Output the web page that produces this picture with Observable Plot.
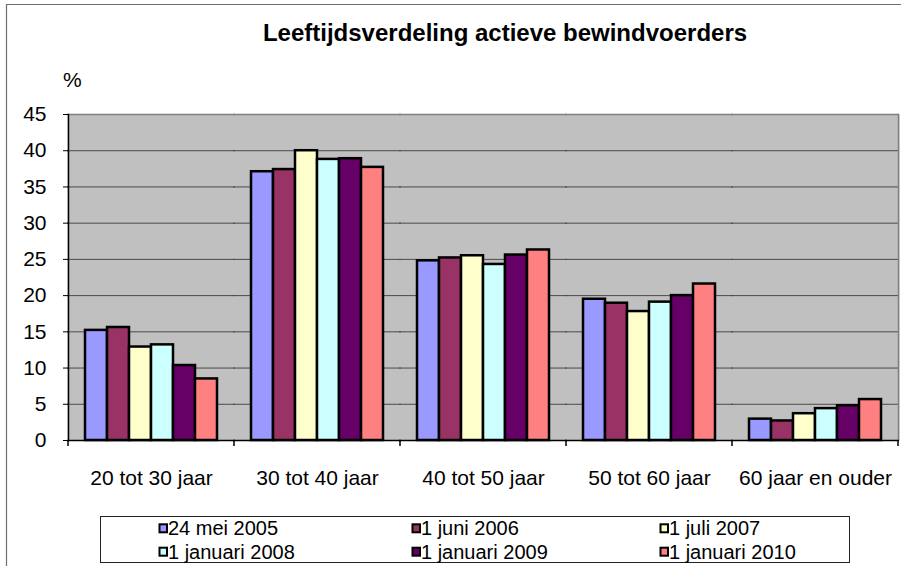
<!DOCTYPE html>
<html>
<head>
<meta charset="utf-8">
<script src="https://cdn.jsdelivr.net/npm/d3@7"></script>
<script src="https://cdn.jsdelivr.net/npm/@observablehq/plot@0.6"></script>
<style>
  html, body { margin: 0; padding: 0; background: #fff; }
  #chart { position: relative; width: 901px; height: 566px; overflow: hidden; }
</style>
</head>
<body>
<div id="chart"></div>
<script>
const titleText = "Leeftijdsverdeling actieve bewindvoerders";
const unitLabel = "%";
const categories = ["20 tot 30 jaar", "30 tot 40 jaar", "40 tot 50 jaar", "50 tot 60 jaar", "60 jaar en ouder"];
const seriesNames = ["24 mei 2005", "1 juni 2006", "1 juli 2007", "1 januari 2008", "1 januari 2009", "1 januari 2010"];
const v2005 = [15.2, 37.1, 24.8, 19.5, 2.95];
const v2006 = [15.6, 37.4, 25.2, 18.95, 2.7];
const v2007 = [12.9, 40.0, 25.5, 17.8, 3.7];
const v2008 = [13.2, 38.8, 24.3, 19.1, 4.4];
const v2009 = [10.35, 38.9, 25.6, 20.0, 4.8];
const v2010 = [8.5, 37.7, 26.3, 21.6, 5.65];
const seriesColors = ["#9999FF", "#993366", "#FFFFCC", "#CCFFFF", "#660066", "#FF8080"];
const yTicks = [0, 5, 10, 15, 20, 25, 30, 35, 40, 45];

const seriesValues = [v2005, v2006, v2007, v2008, v2009, v2010];
const data = [];
seriesValues.forEach((vals, i) => vals.forEach((v, j) => data.push({cat: categories[j], series: seriesNames[i], value: v})));

const chart = Plot.plot({
  width: 901,
  height: 566,
  marginTop: 114,
  marginLeft: 68,
  marginRight: 3,
  marginBottom: 126,
  style: {fontFamily: "'Liberation Sans', Arial, sans-serif", fontSize: "21px", color: "black", background: "transparent", overflow: "visible"},
  fx: {domain: categories, paddingInner: 0, paddingOuter: 0, label: null},
  x: {domain: seriesNames, paddingInner: 0, paddingOuter: 0.745, axis: null},
  y: {domain: [0, 45], label: null},
  color: {domain: seriesNames, range: seriesColors},
  marks: [
    Plot.frame({fill: "#c0c0c0", stroke: "none", insetLeft: -1, insetRight: -1}),
    Plot.gridY(yTicks.filter(t => t > 0 && t < 45), {stroke: "#4a4a4a", strokeOpacity: 1, insetLeft: -1, insetRight: -1}),
    Plot.ruleY([45], {stroke: "#808080", strokeWidth: 1.5, insetLeft: -1, insetRight: -1}),
    Plot.frame({anchor: "right", facetAnchor: "right", stroke: "#808080", strokeWidth: 1.5}),
    Plot.barY(data, {fx: "cat", x: "series", y: "value", fill: "series", stroke: "black", strokeWidth: 2.5, inset: 0}),
    Plot.ruleY([0], {stroke: "black", strokeWidth: 1.5, insetLeft: -1, insetRight: -1}),
    Plot.frame({anchor: "left", facetAnchor: "left", stroke: "black", strokeWidth: 1.5}),
    Plot.axisY({ticks: yTicks, tickSize: 5, tickPadding: 17, label: null, fontSize: 21, tickFormat: d => String(d)}),
    Plot.axisFx({anchor: "bottom", tickSize: 0, tickPadding: 30, label: null, fontSize: 21})
  ]
});

document.getElementById("chart").appendChild(chart);
const svg = d3.select(chart);

// category boundary ticks from the fx scale
const fx = chart.scale("fx");
const y = chart.scale("y");
const y0 = y.apply(0);
const bounds = categories.map(c => fx.apply(c));
bounds.push(fx.apply(categories[categories.length - 1]) + fx.bandwidth);
svg.append("g").selectAll("line").data(bounds).join("line")
  .attr("x1", d => d).attr("x2", d => d)
  .attr("y1", y0).attr("y2", y0 + 6)
  .attr("stroke", "black").attr("stroke-width", 1.5);

// outer chart border (left and top visible)
svg.append("path").attr("d", "M6.5,566V4.5H901").attr("fill", "none").attr("stroke", "#6e6e6e").attr("stroke-width", 1.2);

// title and unit
svg.append("text").attr("x", 505).attr("y", 41).attr("text-anchor", "middle")
  .attr("font-weight", "bold").attr("font-size", 24).attr("fill", "black").text(titleText);
svg.append("text").attr("x", 63).attr("y", 87).attr("text-anchor", "start")
  .attr("font-size", 21).attr("fill", "black").text(unitLabel);

// legend
const color = chart.scale("color");
const lg = svg.append("g").attr("text-anchor", "start");
lg.append("rect").attr("x", 100.5).attr("y", 516.5).attr("width", 749).attr("height", 46)
  .attr("fill", "white").attr("stroke", "#222").attr("stroke-width", 1);
const colX = [159, 412, 660];
const rowY = [528.3, 551.7];
seriesNames.forEach((s, i) => {
  const cx = colX[i % 3], cy = rowY[Math.floor(i / 3)];
  lg.append("rect").attr("x", cx + 0.5).attr("y", cy - 4).attr("width", 7.5).attr("height", 8)
    .attr("fill", color.apply(s)).attr("stroke", "black").attr("stroke-width", 2);
  lg.append("text").attr("x", cx + 9).attr("y", cy).attr("dy", "0.35em").attr("text-anchor", "start")
    .attr("font-size", 20).attr("fill", "black").text(s);
});
</script>
</body>
</html>
